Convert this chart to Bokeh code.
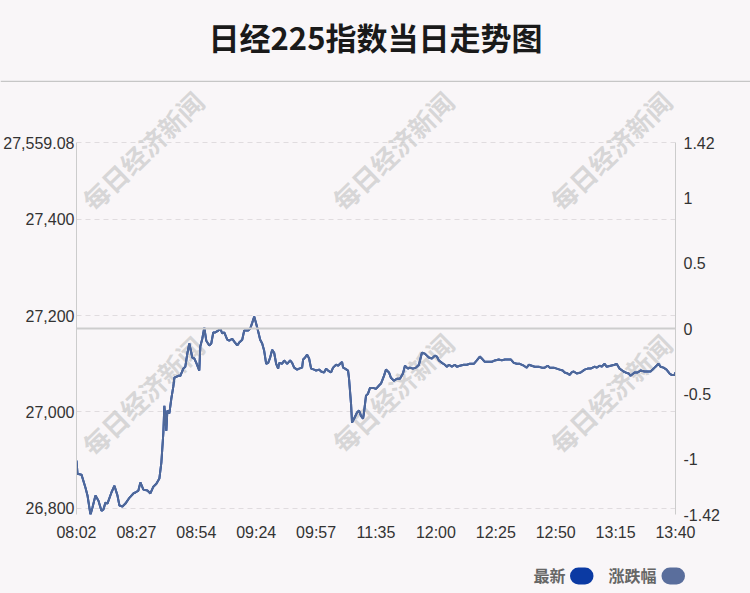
from bokeh.plotting import figure
from bokeh.models import (Range1d, LinearAxis, FixedTicker, NumeralTickFormatter,
                          Grid, Span, Label, GlobalInlineStyleSheet)
from bokeh.layouts import column
from bokeh.embed import file_html
from bokeh.resources import INLINE
from bokeh.core.properties import value

# ---------------- data ----------------
title_text = "日经225指数当日走势图"
time_labels = ["08:02", "08:27", "08:54", "09:24", "09:57", "11:35",
               "12:00", "12:25", "12:50", "13:15", "13:40"]
tick_pos = [0, 60, 120, 180, 240, 300, 360, 420, 480, 540, 600]

t = [0, 1, 5, 9, 11, 14, 16, 19, 22, 25,
     27, 29, 31, 35, 38, 41, 43, 46, 49, 53,
     57, 59, 62, 64, 67, 71, 74, 77, 80, 83,
     85, 87, 88, 90, 91, 93, 95, 97, 98, 102,
     104, 107, 109, 111, 113, 116, 118, 120, 123, 124,
     126, 128, 130, 133, 135, 137, 139, 142, 144, 146,
     148, 151, 153, 156, 158, 161, 163, 166, 168, 172,
     174, 176, 178, 180, 182, 184, 186, 188, 190, 192,
     194, 196, 198, 200, 202, 203, 206, 208, 211, 214,
     216, 218, 221, 223, 226, 227, 229, 231, 233, 235,
     238, 240, 243, 245, 248, 250, 252, 255, 257, 260,
     262, 264, 266, 267, 269, 272, 273, 275, 276, 278,
     281, 283, 285, 287, 288, 290, 292, 294, 297, 300,
     303, 305, 308, 310, 313, 315, 318, 321, 324, 327,
     329, 332, 334, 337, 340, 343, 346, 349, 351, 353,
     356, 359, 361, 363, 366, 369, 371, 373, 376, 379,
     381, 384, 388, 391, 394, 398, 401, 404, 406, 409,
     413, 416, 419, 423, 426, 429, 433, 435, 438, 441,
     444, 448, 451, 453, 456, 459, 463, 466, 469, 472,
     474, 478, 481, 484, 487, 489, 492, 494, 496, 498,
     501, 505, 509, 512, 515, 519, 521, 524, 526, 529,
     531, 535, 539, 541, 544, 548, 550, 553, 555, 559,
     562, 565, 569, 572, 575, 578, 580, 583, 585, 588,
     591, 594, 596, 599, 600]

price = [26899, 26872, 26870, 26843, 26827, 26787, 26802, 26827, 26816, 26795,
         26798, 26812, 26810, 26833, 26847, 26827, 26806, 26804, 26810, 26822,
         26831, 26833, 26837, 26854, 26839, 26837, 26831, 26845, 26851, 26862,
         26895, 26957, 27013, 26961, 27003, 26997, 27028, 27053, 27071, 27075,
         27075, 27090, 27094, 27121, 27142, 27113, 27111, 27102, 27086, 27136,
         27152, 27175, 27148, 27138, 27142, 27165, 27165, 27169, 27173, 27163,
         27165, 27150, 27148, 27152, 27146, 27138, 27144, 27150, 27169, 27169,
         27173, 27185, 27198, 27183, 27167, 27150, 27142, 27127, 27100, 27102,
         27113, 27129, 27123, 27100, 27090, 27102, 27100, 27107, 27100, 27107,
         27102, 27092, 27088, 27090, 27092, 27109, 27113, 27119, 27111, 27090,
         27088, 27086, 27088, 27084, 27082, 27090, 27086, 27082, 27092, 27098,
         27096, 27100, 27104, 27092, 27090, 27086, 27069, 27017, 26978, 26986,
         26999, 27003, 26992, 26986, 26999, 27034, 27038, 27050, 27050, 27048,
         27055, 27059, 27075, 27088, 27082, 27071, 27065, 27069, 27069, 27080,
         27096, 27090, 27092, 27090, 27092, 27098, 27123, 27121, 27117, 27113,
         27111, 27117, 27115, 27107, 27102, 27098, 27094, 27098, 27094, 27098,
         27094, 27096, 27098, 27098, 27100, 27100, 27107, 27115, 27111, 27104,
         27104, 27104, 27107, 27109, 27107, 27109, 27109, 27109, 27102, 27100,
         27100, 27096, 27092, 27098, 27096, 27094, 27094, 27092, 27092, 27096,
         27092, 27092, 27090, 27088, 27086, 27082, 27080, 27077, 27082, 27084,
         27080, 27082, 27088, 27090, 27090, 27094, 27092, 27096, 27094, 27100,
         27094, 27096, 27098, 27100, 27090, 27084, 27082, 27080, 27075, 27082,
         27082, 27086, 27084, 27084, 27084, 27090, 27094, 27100, 27094, 27092,
         27088, 27080, 27077, 27077, 27082]

axis_max = 27559.08
pct_max = 1.42
prev_close = axis_max / (1 + pct_max / 100)
pct = [(v - prev_close) / prev_close * 100 for v in price]

left_ticks = [26800, 27000, 27200, 27400, 27559.08]
right_ticks = [-1.42, -1, -0.5, 0, 0.5, 1, 1.42]
series_names = ["最新", "涨跌幅"]
series_colors = ["#0b3aa3", "#5a6e9c"]
line_color = "#4f6899"
watermark = "每日经济新闻"

# ---------------- style ----------------
BG = "#f9f6f8"
FONT = "Liberation Sans"
CJK = "Noto Sans CJK SC"
HEAD_H = 82
FOOT_TOP = 558
PAGE_H = 593
PLOT_TOP, PLOT_BOTTOM = 142, 514     # page y of the axes' extent
FRAME_TOP = HEAD_H                   # frame extends up to the header line (room for watermarks)
MAIN_H = FOOT_TOP - HEAD_H


def strip(h, y0, y1):
    """A full-width figure whose data coordinates equal page pixels."""
    f = figure(width=750, height=h, x_range=Range1d(0, 750), y_range=Range1d(y1, y0),
               toolbar_location=None, output_backend="svg", min_border=0,
               x_axis_type=None, y_axis_type=None, background_fill_color=BG,
               border_fill_color=BG, outline_line_color=None)
    try:
        f.frame_align = False
    except Exception:
        pass
    return f


# ---------------- header ----------------
head = strip(HEAD_H, 0, HEAD_H)
head.text(x=[375], y=[36], text=[title_text], text_align="center", text_baseline="middle",
          text_font=value(CJK), text_font_size=value("31px"), text_font_style="bold",
          text_color="#1a1a1a")
head.add_layout(Span(location=81, dimension="width", line_color="#c6c6c6", line_width=1.5))

# ---------------- main chart ----------------
ymin = prev_close * (1 - pct_max / 100)
upp = (axis_max - ymin) / (PLOT_BOTTOM - PLOT_TOP)
ytop = axis_max + (PLOT_TOP - FRAME_TOP) * upp
ppp = 2 * pct_max / (PLOT_BOTTOM - PLOT_TOP)
ptop = pct_max + (PLOT_TOP - FRAME_TOP) * ppp

p = figure(width=750, height=MAIN_H, x_range=Range1d(0, 600), y_range=Range1d(ymin, ytop),
           toolbar_location=None, output_backend="svg",
           min_border_left=76, min_border_right=75, min_border_top=0,
           min_border_bottom=FOOT_TOP - PLOT_BOTTOM,
           background_fill_color=BG, border_fill_color=BG, outline_line_color=None)
p.extra_y_ranges = {"pct": Range1d(-pct_max, ptop)}

# x axis
xa = p.xaxis[0]
xa.ticker = FixedTicker(ticks=tick_pos)
xa.major_label_overrides = {tp: lab for tp, lab in zip(tick_pos, time_labels)}
xa.axis_line_color = None
xa.major_tick_line_color = None
xa.minor_tick_line_color = None
xa.major_tick_out = 0
xa.major_tick_in = 0
xa.major_label_standoff = 9
xa.major_label_text_font = FONT
xa.major_label_text_font_size = "16px"
xa.major_label_text_color = "#333333"

# left axis
ya = p.yaxis[0]
ya.ticker = FixedTicker(ticks=left_ticks)
ya.formatter = NumeralTickFormatter(format="0,0.[00]")
ya.bounds = (ymin, axis_max)

# right axis
ra = LinearAxis(y_range_name="pct", ticker=FixedTicker(ticks=right_ticks),
                formatter=NumeralTickFormatter(format="0.[00]"), bounds=(-pct_max, pct_max))
p.add_layout(ra, "right")

for ax, so in ((ya, 2), (ra, 8)):
    ax.axis_line_color = "#cccccc"
    ax.axis_line_width = 1
    ax.major_tick_line_color = None
    ax.minor_tick_line_color = None
    ax.major_tick_out = 0
    ax.major_tick_in = 0
    ax.major_label_standoff = so
    ax.major_label_text_font = FONT
    ax.major_label_text_font_size = "16px"
    ax.major_label_text_color = "#333333"

p.xgrid.visible = False
p.ygrid.ticker = FixedTicker(ticks=left_ticks)
p.ygrid.grid_line_color = "#e0dcdf"
p.ygrid.grid_line_dash = "5 4"
p.ygrid.grid_line_width = 1
g2 = Grid(dimension=1, axis=ra, grid_line_color="#e0dcdf", grid_line_dash="5 4", grid_line_width=1)
p.add_layout(g2)

p.add_layout(Span(location=prev_close, dimension="width", line_color="#cdcdcd", line_width=2))


def X(px):
    return (px - 76) / 599 * 600


def Y(py):
    return axis_max - (py - PLOT_TOP) * upp


# watermarks (kept inside the plotting frame)
for cx, cy in [(142, 150), (392, 150), (610, 150), (142, 395), (392, 392), (610, 393)]:
    p.add_layout(Label(x=X(cx), y=Y(cy), text=watermark, angle=0.77, angle_units="rad",
                       text_align="center", text_baseline="middle", text_font=CJK,
                       text_font_size="26px", text_font_style="bold", text_color="#cccccc",
                       text_alpha=0.75, level="underlay"))

# series
p.line(t, price, line_color=series_colors[0], line_width=2)
p.line(t, pct, y_range_name="pct", line_color=line_color, line_width=2)

# ---------------- legend strip ----------------
foot = strip(PAGE_H - FOOT_TOP, FOOT_TOP, PAGE_H)
for name, col, tx, sx in [(series_names[0], series_colors[0], 549, 578),
                          (series_names[1], series_colors[1], 632, 669.5)]:
    foot.text(x=[tx], y=[574], text=[name], text_align="center", text_baseline="middle",
              text_font=value(CJK), text_font_size=value("16px"), text_font_style="bold",
              text_color="#666666")
    foot.line(x=[sx, sx + 6.5], y=[575.5, 575.5], line_color=col, line_width=17, line_cap="round")

layout = column(head, p, foot)
layout.stylesheets = [GlobalInlineStyleSheet(
    css="html, body { margin: 0; padding: 0; background: %s; overflow: hidden; }" % BG)]
open("out.html", "w").write(file_html(layout, INLINE))
